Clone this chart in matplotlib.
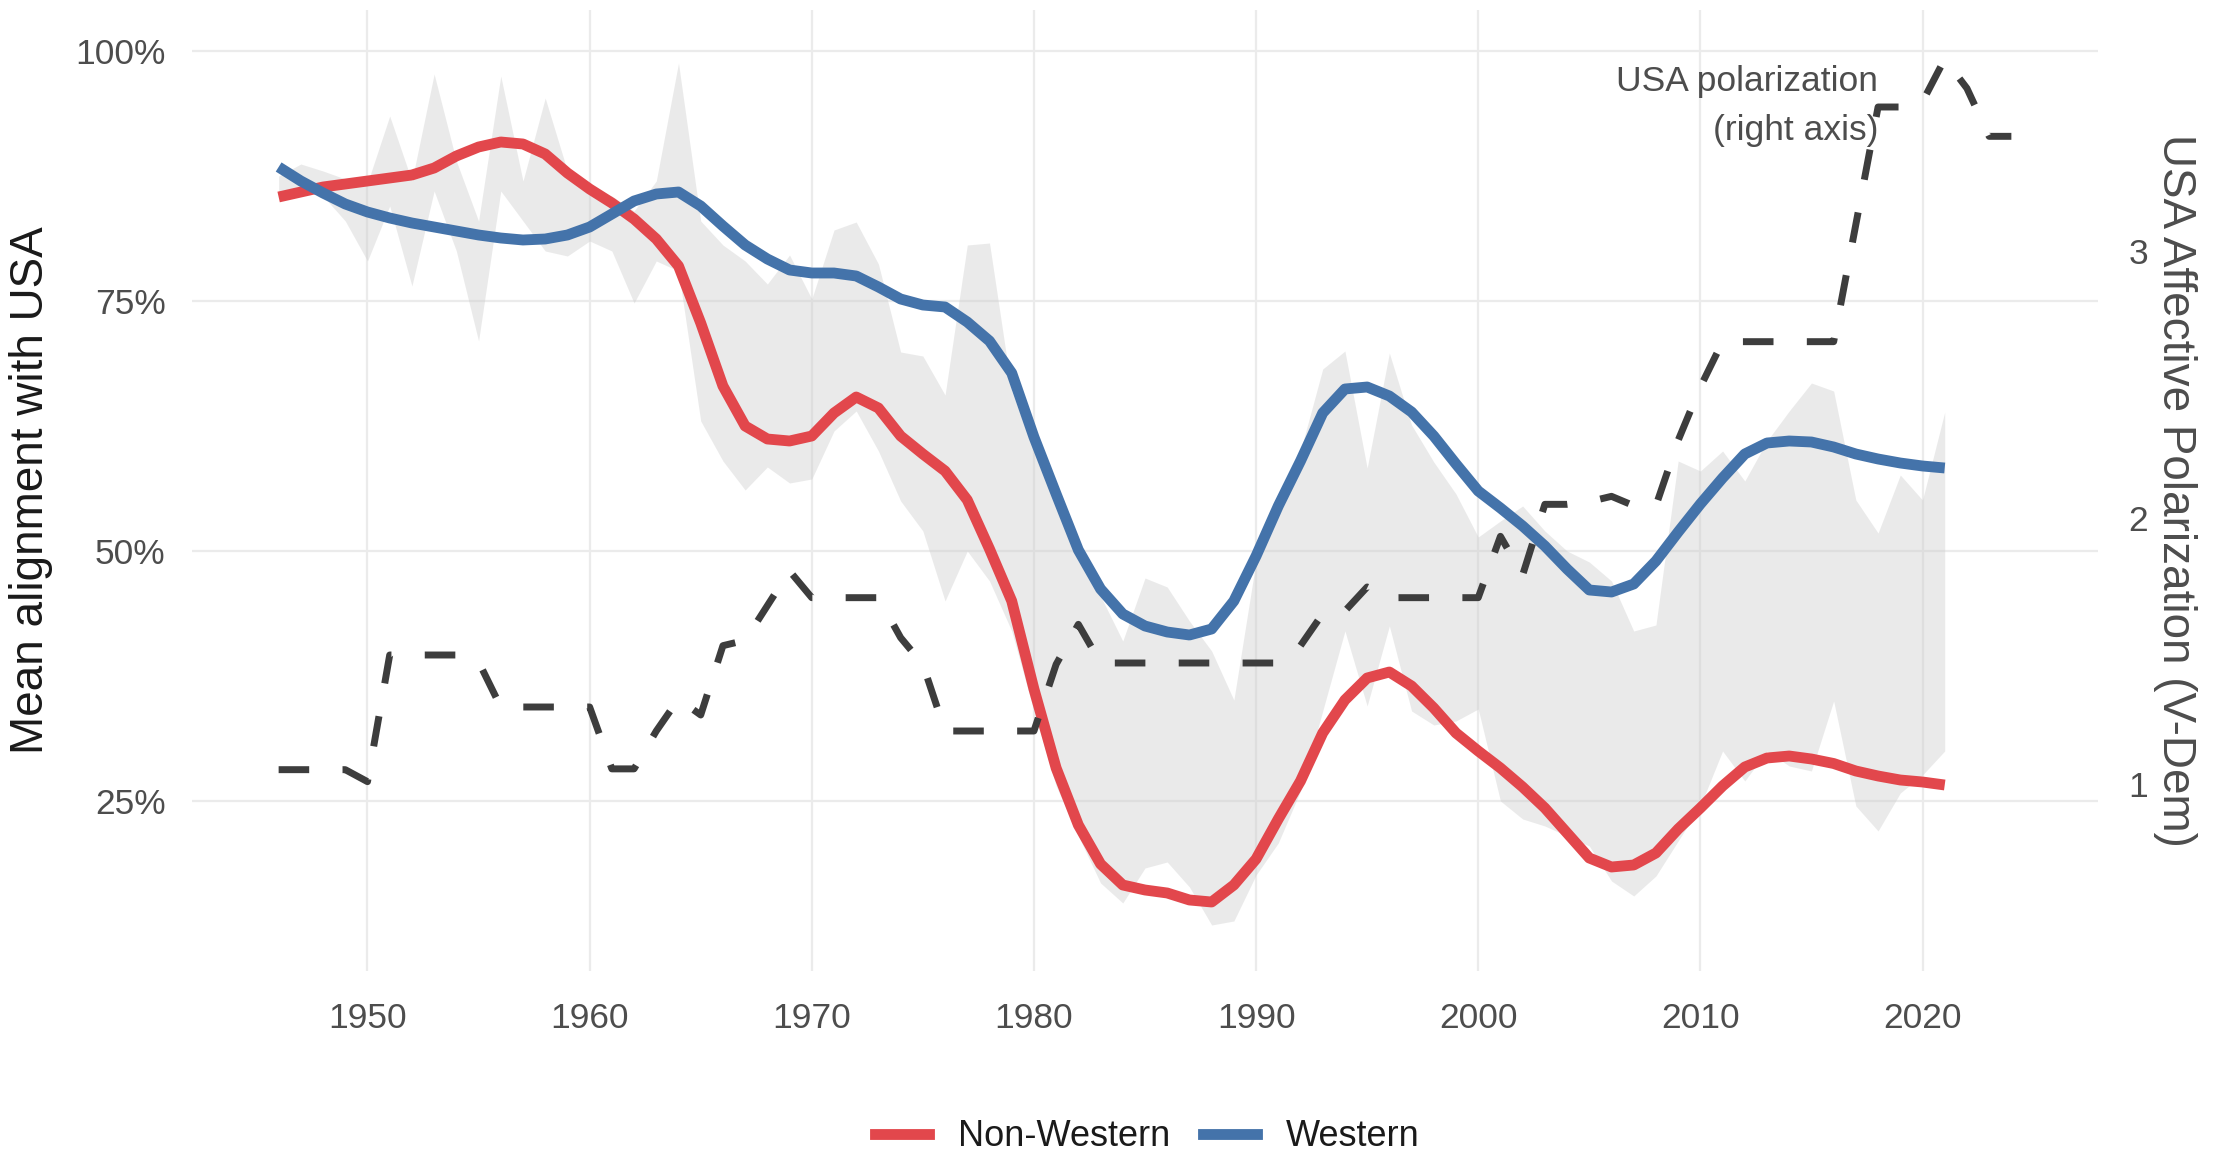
import numpy as np
import matplotlib.pyplot as plt
from matplotlib.lines import Line2D

plt.rcParams['font.family'] = ['Liberation Sans', 'DejaVu Sans']

years = np.arange(1946, 2022)

# smoothed mean alignment with USA
non_western = [0.854, 0.859, 0.864, 0.867, 0.870, 0.873, 0.876, 0.883, 0.895, 0.904,
               0.909, 0.907, 0.897, 0.878, 0.862, 0.848, 0.832, 0.812, 0.785, 0.728,
               0.665, 0.625, 0.612, 0.610, 0.615, 0.638, 0.654, 0.643, 0.615, 0.597,
               0.580, 0.551, 0.502, 0.450, 0.362, 0.283, 0.226, 0.187, 0.166, 0.161,
               0.158, 0.151, 0.149, 0.166, 0.192, 0.232, 0.270, 0.318, 0.351, 0.373,
               0.379, 0.365, 0.343, 0.318, 0.300, 0.283, 0.264, 0.243, 0.218, 0.193,
               0.184, 0.186, 0.198, 0.222, 0.243, 0.265, 0.284, 0.293, 0.295, 0.292,
               0.2875, 0.280, 0.275, 0.271, 0.269, 0.266]
western = [0.884, 0.870, 0.858, 0.847, 0.839, 0.833, 0.828, 0.824, 0.820, 0.816,
           0.813, 0.811, 0.812, 0.816, 0.824, 0.837, 0.850, 0.857, 0.859, 0.845,
           0.825, 0.806, 0.792, 0.781, 0.778, 0.778, 0.775, 0.764, 0.752, 0.746,
           0.744, 0.729, 0.710, 0.678, 0.614, 0.557, 0.501, 0.462, 0.437, 0.425,
           0.419, 0.416, 0.422, 0.450, 0.495, 0.545, 0.590, 0.638, 0.662, 0.664,
           0.655, 0.639, 0.615, 0.587, 0.560, 0.543, 0.525, 0.505, 0.482, 0.461,
           0.459, 0.467, 0.490, 0.519, 0.547, 0.573, 0.597, 0.608, 0.610, 0.609,
           0.604, 0.597, 0.592, 0.588, 0.585, 0.583]

# yearly raw range between the two groups (gray band)
band_low = [0.855, 0.860, 0.855, 0.830, 0.790, 0.845, 0.765, 0.860, 0.800, 0.710,
            0.860, 0.830, 0.800, 0.795, 0.810, 0.800, 0.748, 0.790, 0.780, 0.630,
            0.590, 0.561, 0.584, 0.568, 0.572, 0.620, 0.640, 0.600, 0.550, 0.520,
            0.450, 0.500, 0.470, 0.420, 0.340, 0.265, 0.215, 0.168, 0.148, 0.183,
            0.189, 0.164, 0.126, 0.130, 0.176, 0.208, 0.260, 0.340, 0.420, 0.345,
            0.425, 0.340, 0.326, 0.330, 0.342, 0.250, 0.232, 0.225, 0.215, 0.205,
            0.170, 0.155, 0.175, 0.210, 0.245, 0.300, 0.270, 0.300, 0.285, 0.280,
            0.350, 0.245, 0.220, 0.258, 0.276, 0.300]
band_high = [0.875, 0.887, 0.880, 0.872, 0.868, 0.935, 0.870, 0.977, 0.890, 0.830,
             0.975, 0.870, 0.953, 0.880, 0.860, 0.855, 0.840, 0.870, 0.988, 0.830,
             0.806, 0.790, 0.767, 0.796, 0.752, 0.821, 0.829, 0.787, 0.699, 0.695,
             0.656, 0.806, 0.808, 0.660, 0.600, 0.545, 0.490, 0.455, 0.410, 0.473,
             0.464, 0.430, 0.400, 0.351, 0.490, 0.540, 0.600, 0.682, 0.700, 0.583,
             0.698, 0.626, 0.589, 0.557, 0.514, 0.530, 0.545, 0.520, 0.500, 0.489,
             0.470, 0.420, 0.426, 0.590, 0.580, 0.600, 0.570, 0.610, 0.640, 0.668,
             0.660, 0.551, 0.518, 0.576, 0.551, 0.639]

# USA affective polarization (V-Dem), right axis
pol_years = np.arange(1946, 2025)
polarization = [1.055, 1.055, 1.055, 1.055, 1.01, 1.485, 1.485, 1.485, 1.485, 1.46,
                1.29, 1.29, 1.29, 1.29, 1.29, 1.058, 1.058, 1.20, 1.32, 1.26,
                1.52, 1.54, 1.67, 1.80, 1.70, 1.70, 1.70, 1.70, 1.55, 1.45,
                1.20, 1.20, 1.20, 1.20, 1.20, 1.45, 1.60, 1.455, 1.455, 1.455,
                1.455, 1.455, 1.455, 1.455, 1.455, 1.455, 1.52, 1.64, 1.65, 1.74,
                1.70, 1.70, 1.70, 1.70, 1.70, 1.93, 1.785, 2.05, 2.05, 2.06,
                2.08, 2.045, 2.045, 2.29, 2.49, 2.66, 2.66, 2.66, 2.66, 2.66,
                2.66, 3.10, 3.54, 3.54, 3.56, 3.72, 3.61, 3.43, 3.43]
scale = 3.75

red = '#E2474C'
blue = '#4473AA'
text_grey = '#4D4D4D'

fig = plt.figure(figsize=(22.16, 11.53), dpi=100)
ax = fig.add_axes([192 / 2216, 1 - 971 / 1153, 1906 / 2216, 961 / 1153])

ax.fill_between(years, band_low, band_high, color='#CCCCCC', alpha=0.4, linewidth=0, zorder=1)
ax.plot(years, non_western, color=red, lw=7.8, solid_capstyle='butt', zorder=3)
ax.plot(years, western, color=blue, lw=7.8, solid_capstyle='butt', zorder=3)
ax.plot(pol_years, np.array(polarization) / scale, color='#3D3D3D', lw=5,
        dashes=(4.4, 4.8), dash_capstyle='butt', zorder=4)

ax.set_xlim(1942.1, 2027.9)
ax.set_ylim(0.08, 1.041)
ax.set_xticks(range(1950, 2021, 10))
ax.set_yticks([0.25, 0.5, 0.75, 1.0])
ax.set_yticklabels(['25%', '50%', '75%', '100%'])
ax.grid(True, color='#EBEBEB', lw=1.6, zorder=0)
ax.set_axisbelow(True)
for s in ax.spines.values():
    s.set_visible(False)
ax.tick_params(length=0, labelsize=25.5, labelcolor=text_grey)
ax.tick_params(axis='x', pad=22)
ax.tick_params(axis='y', pad=19)

ax2 = ax.twinx()
ax2.set_ylim(0.08 * scale, 1.041 * scale)
ax2.set_yticks([1, 2, 3])
for s in ax2.spines.values():
    s.set_visible(False)
ax2.tick_params(length=0, labelsize=25.5, labelcolor=text_grey, pad=22)

ax.text(2018, 0.945, 'USA polarization\n(right axis)', ha='right', va='center',
        multialignment='right', fontsize=25.5, color=text_grey, linespacing=1.6, zorder=5)

fig.text(31 / 2216, 1 - 490 / 1153, 'Mean alignment with USA', rotation=90,
         ha='center', va='center', fontsize=33, color='#1A1A1A')
fig.text(2175 / 2216, 1 - 490 / 1153, 'USA Affective Polarization (V-Dem)', rotation=270,
         ha='center', va='center', fontsize=33, color=text_grey)

handles = [Line2D([0], [0], color=red, lw=7.8), Line2D([0], [0], color=blue, lw=7.8)]
fig.legend(handles, ['Non-Western', 'Western'], loc='center', ncol=2,
           bbox_to_anchor=(1147 / 2216, 1 - 1137 / 1153), frameon=False,
           fontsize=26, handlelength=1.5, handletextpad=0.8, columnspacing=0.9,
           labelcolor='#1A1A1A')

fig.savefig('out.png', dpi=100)
